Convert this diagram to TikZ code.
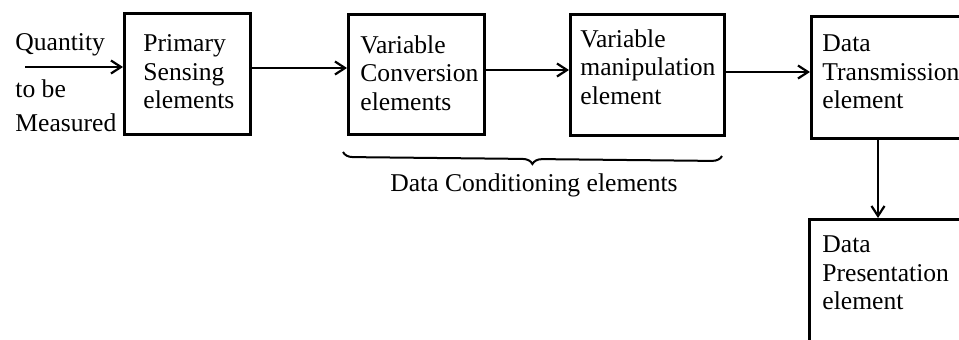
\documentclass[tikz,border=0pt]{standalone}
\usepackage{fontspec}
\setmainfont{Liberation Serif}
\usetikzlibrary{arrows.meta,decorations.pathreplacing}
\begin{document}
\begin{tikzpicture}[x=0.5pt,y=-0.5pt,
  box/.style={draw, line width=1.3pt, anchor=north west, inner sep=0pt},
  txt/.style={align=left, inner sep=0pt, anchor=west, font=\fontsize{12.8}{14.25}\selectfont},
  arr/.style={line width=1.1pt, -{Straight Barb[length=5pt,width=6.5pt]}},
  bracestyle/.style={line width=1pt, decorate, decoration={brace, amplitude=5pt}},
]
\useasboundingbox (0,0) rectangle (959,339);
\clip (0,0) rectangle (959,339);
% boxes
\node[box, minimum width=63pt, minimum height=60.5pt] (prim) at (123,12) {};
\node[box, minimum width=68pt, minimum height=60pt] (conv) at (347,13) {};
\node[box, minimum width=77pt, minimum height=60.5pt] (manip) at (569,13) {};
\node[box, minimum width=100pt, minimum height=61pt] (trans) at (810,15) {};
\node[box, minimum width=100pt, minimum height=91pt] (pres) at (808,218) {};
% box texts
\node[txt] (primt) at (143,72) {Primary\\Sensing\\elements};
\node[txt] (convt) at (360,73) {Variable\\Conversion\\elements};
\node[txt] (manipt) at (580,67) {Variable\\manipulation\\element};
\node[txt] (transt) at (822,72) {Data\\Transmission\\element};
\node[txt] (prest) at (822,273) {Data\\Presentation\\element};
% input text
\node[txt] (q1) at (15,45) {Quantity};
\node[txt] (q2) at (15,89) {to be};
\node[txt] (q3) at (15,123) {Measured};
% connectors
\coordinate (src) at (25,67);
\coordinate (r1) at (0,68);
\coordinate (r2) at (0,70);
\coordinate (r3) at (0,72);
\coordinate (dx) at (878,0);
\draw[arr] (src) -- (prim.west |- src);
\draw[arr] (prim.east |- r1) -- (conv.west |- r1);
\draw[arr] (conv.east |- r2) -- (manip.west |- r2);
\draw[arr] (manip.east |- r3) -- (trans.west |- r3);
\draw[arr] (trans.south -| dx) -- (pres.north -| dx);
% brace
\coordinate (bR) at (722,156);
\coordinate (bL) at (343,152);
\draw[bracestyle] (bR) -- (bL);
\node[txt, anchor=center] (dcl) at (534,185) {Data Conditioning elements};
\end{tikzpicture}
\end{document}
